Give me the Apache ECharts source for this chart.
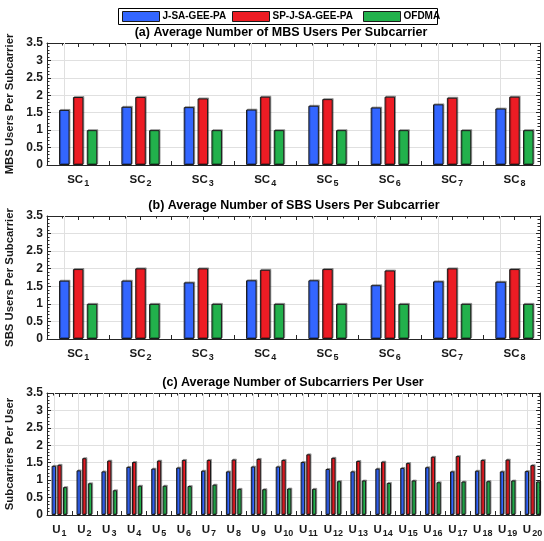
<!DOCTYPE html>
<html>
<head>
<meta charset="utf-8">
<script src="https://cdn.jsdelivr.net/npm/echarts@6/dist/echarts.min.js"></script>
<style>
  html, body { margin: 0; padding: 0; background: #fff; }
  #chart { width: 544px; height: 541px; }
</style>
</head>
<body>
<div id="chart"></div>
<script>
// Scheme names (legend order)
const seriesNames = ['J-SA-GEE-PA', 'SP-J-SA-GEE-PA', 'OFDMA'];

// Category labels: subcarriers SC1..SC8 and users U1..U20
const subcarrierIds = ['1', '2', '3', '4', '5', '6', '7', '8'];
const userIds = ['1', '2', '3', '4', '5', '6', '7', '8', '9', '10',
                 '11', '12', '13', '14', '15', '16', '17', '18', '19', '20'];

// Y tick values shared by all three panels
const yTicks = [0, 0.5, 1, 1.5, 2, 2.5, 3, 3.5];

// (a) Average number of MBS users per subcarrier
const mbsJ     = [1.58, 1.67, 1.66, 1.59, 1.70, 1.65, 1.74, 1.62];
const mbsSP    = [1.95, 1.95, 1.91, 1.96, 1.89, 1.96, 1.93, 1.96];
const mbsOFDMA = [1.00, 1.00, 1.00, 1.00, 1.00, 1.00, 1.00, 1.00];

// (b) Average number of SBS users per subcarrier
const sbsJ     = [1.66, 1.66, 1.61, 1.67, 1.67, 1.53, 1.64, 1.63];
const sbsSP    = [1.99, 2.01, 2.01, 1.97, 1.99, 1.95, 2.01, 1.99];
const sbsOFDMA = [1.00, 1.00, 1.00, 1.00, 1.00, 1.00, 1.00, 1.00];

// (c) Average number of subcarriers per user
const scJ     = [1.41, 1.28, 1.25, 1.38, 1.33, 1.36, 1.27, 1.25, 1.39, 1.39,
                 1.52, 1.32, 1.25, 1.33, 1.35, 1.37, 1.25, 1.27, 1.25, 1.26];
const scSP    = [1.44, 1.63, 1.56, 1.52, 1.56, 1.58, 1.58, 1.59, 1.61, 1.58,
                 1.74, 1.64, 1.55, 1.53, 1.49, 1.67, 1.69, 1.58, 1.59, 1.43];
const scOFDMA = [0.80, 0.91, 0.71, 0.84, 0.84, 0.83, 0.87, 0.75, 0.74, 0.76,
                 0.75, 0.97, 0.99, 0.92, 0.99, 0.94, 0.96, 0.97, 0.99, 0.96];

const colors = ['#3366ff', '#ed1c24', '#22b14c'];
const axisColor = '#262626';
const gridColor = '#e0e0e0';
const FONT = "'Liberation Sans', Arial, Helvetica, sans-serif";

const panels = [
  { title: '(a) Average Number of MBS Users Per Subcarrier', titleX: 281, titleY: 33,
    yName: 'MBS Users Per Subcarrier', prefix: 'SC', ids: subcarrierIds,
    values: [mbsJ, mbsSP, mbsOFDMA], top: 43, height: 122, xMax: 8.41,
    barWidth: 10.5, labelMargin: 8 },
  { title: '(b) Average Number of SBS Users Per Subcarrier', titleX: 294, titleY: 206,
    yName: 'SBS Users Per Subcarrier', prefix: 'SC', ids: subcarrierIds,
    values: [sbsJ, sbsSP, sbsOFDMA], top: 216, height: 123, xMax: 8.41,
    barWidth: 10.5, labelMargin: 8 },
  { title: '(c) Average Number of Subcarriers Per User', titleX: 293, titleY: 383,
    yName: 'Subcarriers Per User', prefix: 'U', ids: userIds,
    values: [scJ, scSP, scOFDMA], top: 393, height: 122, xMax: 20.3,
    barWidth: 4.3, labelMargin: 8 }
];

const grids = [], xAxes = [], yAxes = [], series = [], graphics = [];

const isWhole = v => Math.abs(v - Math.round(v)) < 1e-6;

panels.forEach((p, gi) => {
  grids.push({ left: 47, width: 493, top: p.top, height: p.height,
               containLabel: false, outerBoundsMode: 'none' });

  const tickCommon = {
    axisLine: { show: true, onZero: false, lineStyle: { color: axisColor, width: 1 } },
    axisTick: { show: true, inside: true, length: 4, lineStyle: { color: axisColor, width: 1 } },
    minorTick: { show: true, splitNumber: 2, length: 2.5, lineStyle: { color: axisColor, width: 1 } }
  };

  // bottom x axis with category labels at whole positions
  xAxes.push(Object.assign({
    type: 'value', gridIndex: gi, position: 'bottom', min: 0.5, max: p.xMax, interval: 0.5,
    splitLine: { show: false },
    axisLabel: {
      show: true, margin: p.labelMargin, color: '#1a1a1a',
      formatter: v => {
        if (!isWhole(v)) return '';
        const id = p.ids[Math.round(v) - 1];
        return id ? '{m|' + p.prefix + '}{s|' + id + '}' : '';
      },
      rich: {
        m: { fontFamily: FONT, fontWeight: 'bold', fontSize: 11.5, color: '#1a1a1a', lineHeight: 13 },
        s: { fontFamily: FONT, fontWeight: 'bold', fontSize: 9, color: '#1a1a1a', lineHeight: 10, padding: [9, 0, 0, 1] }
      }
    }
  }, tickCommon));
  // top frame edge
  xAxes.push(Object.assign({
    type: 'value', gridIndex: gi, position: 'top', min: 0.5, max: p.xMax, interval: 0.5,
    splitLine: { show: false }, axisLabel: { show: false }
  }, tickCommon));

  // left y axis
  yAxes.push(Object.assign({
    type: 'value', gridIndex: gi, position: 'left',
    min: yTicks[0], max: yTicks[yTicks.length - 1], interval: yTicks[1] - yTicks[0],
    minorTick: { show: true, splitNumber: 5, length: 2.5, lineStyle: { color: axisColor, width: 1 } },
    splitLine: { show: true, lineStyle: { color: gridColor, width: 1 } },
    axisLabel: { show: true, margin: 4, color: '#1a1a1a', fontFamily: FONT,
                 fontWeight: 'bold', fontSize: 12 },
    name: p.yName, nameLocation: 'middle', nameGap: 24, nameRotate: 90,
    nameTextStyle: { fontFamily: FONT, fontWeight: 'bold', fontSize: 11.3, color: '#1a1a1a' }
  }, { axisLine: tickCommon.axisLine, axisTick: tickCommon.axisTick }));
  // right frame edge
  yAxes.push({
    type: 'value', gridIndex: gi, position: 'right',
    min: yTicks[0], max: yTicks[yTicks.length - 1], interval: yTicks[1] - yTicks[0],
    axisLine: tickCommon.axisLine, axisTick: tickCommon.axisTick,
    minorTick: { show: true, splitNumber: 5, length: 2.5, lineStyle: { color: axisColor, width: 1 } },
    splitLine: { show: false }, axisLabel: { show: false }
  });

  p.values.forEach((vals, si) => {
    const s = {
      type: 'bar', name: seriesNames[si],
      xAxisIndex: gi * 2, yAxisIndex: gi * 2,
      barWidth: p.barWidth, barGap: '32%',
      data: vals.map((v, i) => [i + 1, v]),
      itemStyle: { color: colors[si], borderColor: '#1a1a1a', borderWidth: 1,
                   shadowColor: 'rgba(0,0,0,0.3)', shadowBlur: 0,
                   shadowOffsetX: 1, shadowOffsetY: -1 },
      emphasis: { disabled: true },
      animation: false
    };
    if (si === 0) {
      // vertical grid lines at each category position, beneath the bars
      s.markLine = {
        silent: true, z: 1, animation: false, symbol: ['none', 'none'],
        label: { show: false },
        lineStyle: { color: gridColor, type: 'solid', width: 1 },
        emphasis: { disabled: true },
        data: p.ids.map((_, i) => ({ xAxis: i + 1 }))
      };
    }
    series.push(s);
  });

  graphics.push({
    type: 'text', x: p.titleX, y: p.titleY, z: 10,
    style: { text: p.title, fill: '#000', textAlign: 'center', textVerticalAlign: 'middle',
             font: 'bold 12.5px ' + FONT }
  });
});

// legend frame
graphics.push({
  type: 'rect', z: 1, shape: { x: 118.5, y: 8.5, width: 319, height: 16 },
  style: { fill: '#fff', stroke: '#000', lineWidth: 1 }
});

const legendLeft = [122, 232, 363];
const legends = seriesNames.map((n, i) => ({
  data: [n], left: legendLeft[i], top: 11, padding: 0, itemGap: 0,
  itemWidth: 37, itemHeight: 10, icon: 'rect', z: 5,
  itemStyle: { borderColor: '#1a1a1a', borderWidth: 1, shadowColor: 'rgba(0,0,0,0)' },
  textStyle: { fontFamily: FONT, fontWeight: 'bold', fontSize: 10, color: '#000', padding: [0, 0, 0, -2] },
  selectedMode: false
}));

const chart = echarts.init(document.getElementById('chart'), null, { renderer: 'canvas' });
chart.setOption({
  animation: false,
  backgroundColor: '#fff',
  color: colors,
  grid: grids,
  xAxis: xAxes,
  yAxis: yAxes,
  legend: legends,
  graphic: graphics,
  series: series
});
</script>
</body>
</html>
